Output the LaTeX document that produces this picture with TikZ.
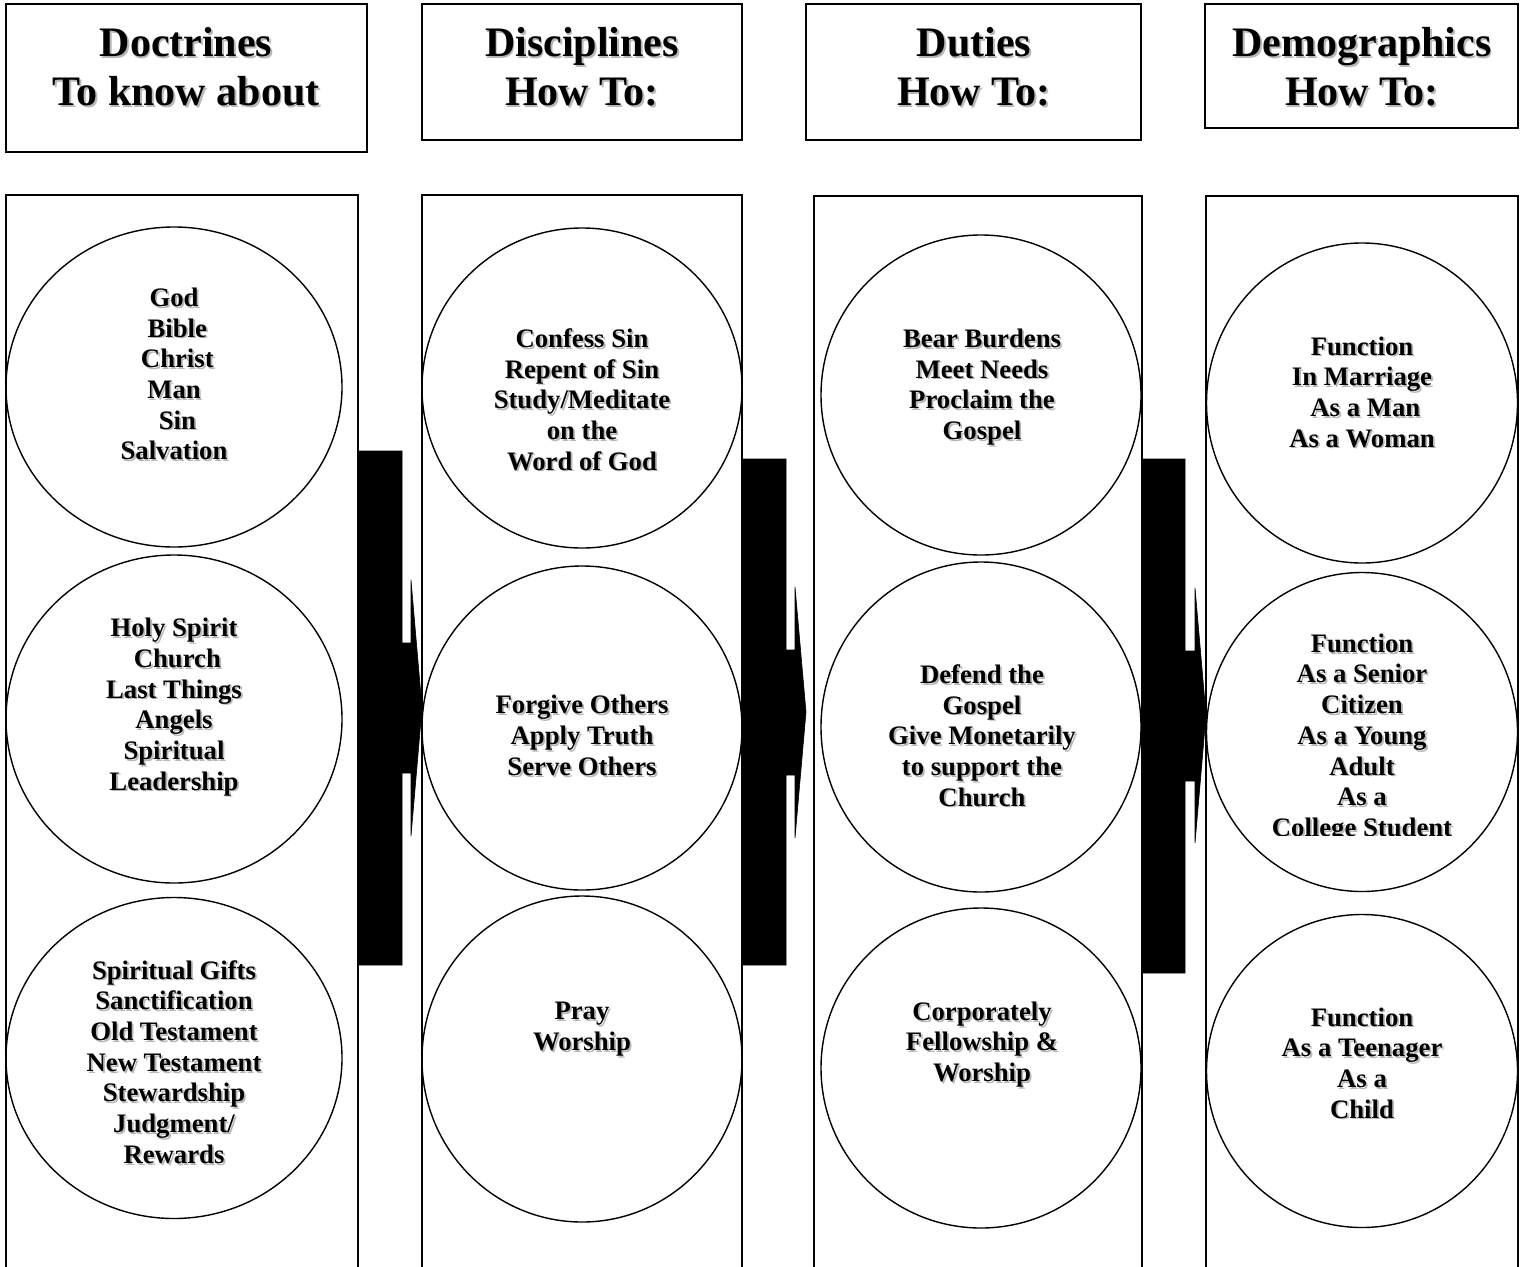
\documentclass[tikz,border=0pt]{standalone}
\usepackage{fontspec}
\setmainfont{Liberation Serif}
\usetikzlibrary{shapes.geometric,calc}
\tikzset{
  box/.style={draw, line width=2pt, rectangle, inner sep=0pt, outer sep=0pt},
  circ/.style={draw, line width=1.4pt, ellipse, inner sep=0pt, outer sep=0pt},
  hdrtxt/.style={font=\bfseries\fontsize{42}{49}\selectfont, align=center, inner sep=0pt},
  bodytxt/.style={font=\bfseries\fontsize{26.7}{30.7}\selectfont, align=center, inner sep=0pt},
  blockarrow/.style={fill=black, draw=black, line width=0.6pt, line join=miter},
}
\newcommand\shtxt[4]{%
  \node[#3, text=black!28] (#1s) at ($(#2)+(1.8,1.8)$) {#4};
  \node[#3] (#1) at (#2) {#4};}
\begin{document}
\begin{tikzpicture}[x=1pt,y=-1pt]
\useasboundingbox (0,0) rectangle (1525,1266);
\fill[white] (0,0) rectangle (1525,1266);
\clip (0,0) rectangle (1525,1266);

% header boxes
\node[box, minimum width=361pt, minimum height=148pt] (h1) at (186.5,78) {};
\node[box, minimum width=320pt, minimum height=136pt] (h2) at (582,72) {};
\node[box, minimum width=335pt, minimum height=136pt] (h3) at (973.5,72) {};
\node[box, minimum width=313pt, minimum height=124pt] (h4) at (1361.5,66) {};

\shtxt{t1}{186,67}{hdrtxt}{Doctrines\\To know about}
\shtxt{t2}{582,67}{hdrtxt}{Disciplines\\How To:}
\shtxt{t3}{974,67}{hdrtxt}{Duties\\How To:}
\shtxt{t4}{1362,67}{hdrtxt}{Demographics\\How To:}

% body columns
\node[box, anchor=north, minimum width=352pt, minimum height=1110pt] (b1) at (182,195) {};
\node[box, anchor=north, minimum width=320pt, minimum height=1110pt] (b2) at (582,195) {};
\node[box, anchor=north, minimum width=328pt, minimum height=1110pt] (b3) at (978,196) {};
\node[box, anchor=north, minimum width=312pt, minimum height=1110pt] (b4) at (1362,196) {};

% block arrows
\fill[blockarrow] (358,451) -- (402,451) -- (402,643) -- (411,643) -- (411,580) -- (422,708)
  -- (411,836) -- (411,773) -- (402,773) -- (402,965) -- (358,965) -- cycle;
\fill[blockarrow] (742,459) -- (786,459) -- (786,650) -- (795,650) -- (795,587) -- (806,712)
  -- (795,838) -- (795,775) -- (786,775) -- (786,965) -- (742,965) -- cycle;
\fill[blockarrow] (1142,459) -- (1185,459) -- (1185,651) -- (1195,651) -- (1195,588) -- (1206,715)
  -- (1195,843) -- (1195,781) -- (1185,781) -- (1185,973) -- (1142,973) -- cycle;

% circles column 1
\node[circ, minimum width=336pt, minimum height=320pt] (c11) at (174,387) {};
\node[circ, minimum width=336pt, minimum height=328pt] (c12) at (174,719) {};
\node[circ, minimum width=336pt, minimum height=321pt] (c13) at (174,1058) {};
% column 2
\node[circ, minimum width=320pt, minimum height=320pt] (c21) at (582,388) {};
\node[circ, minimum width=320pt, minimum height=324pt] (c22) at (582,728) {};
\node[circ, minimum width=320pt, minimum height=326pt] (c23) at (582,1059) {};
% column 3
\node[circ, minimum width=320pt, minimum height=320pt] (c31) at (981,395) {};
\node[circ, minimum width=320pt, minimum height=330pt] (c32) at (981,727) {};
\node[circ, minimum width=320pt, minimum height=320pt] (c33) at (981,1068) {};
% column 4
\node[circ, minimum width=311pt, minimum height=320pt] (c41) at (1362,403) {};
\node[circ, minimum width=311pt, minimum height=319pt] (c42) at (1362,732) {};
\node[circ, minimum width=311pt, minimum height=313pt] (c43) at (1362,1071) {};

% texts
\shtxt{x11}{174,374}{bodytxt}{God\\~Bible\\~Christ\\Man\\~Sin\\Salvation}
\shtxt{x12}{174,707}{bodytxt}{Holy Spirit\\~Church\\Last Things\\Angels\\Spiritual\\Leadership}
\shtxt{x13}{174,1062}{bodytxt}{Spiritual Gifts\\Sanctification\\Old Testament\\New Testament\\Stewardship\\Judgment/\\Rewards}

\shtxt{x21}{582,399.5}{bodytxt}{Confess Sin\\Repent of Sin\\Study/Meditate\\on the\\Word of God}
\shtxt{x22}{582,735.5}{bodytxt}{Forgive Others\\Apply Truth\\Serve Others}
\shtxt{x23}{582,1029}{bodytxt}{Pray\\Worship}

\shtxt{x31}{982,387}{bodytxt}{Bear Burdens\\Meet Needs\\Proclaim the\\Gospel}
\shtxt{x32}{982,735.5}{bodytxt}{Defend the\\Gospel\\Give Monetarily\\to support the\\Church}
\shtxt{x33}{982,1044.5}{bodytxt}{Corporately\\Fellowship \&\\Worship}

\shtxt{x41}{1362,392}{bodytxt}{Function\\In Marriage\\~As a Man\\As a Woman}
\begin{scope}
\clip (1190,560) rectangle (1525,835);
\shtxt{x42}{1362,738}{bodytxt}{Function\\As a Senior\\Citizen\\As a Young\\Adult\\As a\\College Student}
\end{scope}
\shtxt{x43}{1362,1063}{bodytxt}{Function\\As a Teenager\\As a\\Child}
\end{tikzpicture}
\end{document}
